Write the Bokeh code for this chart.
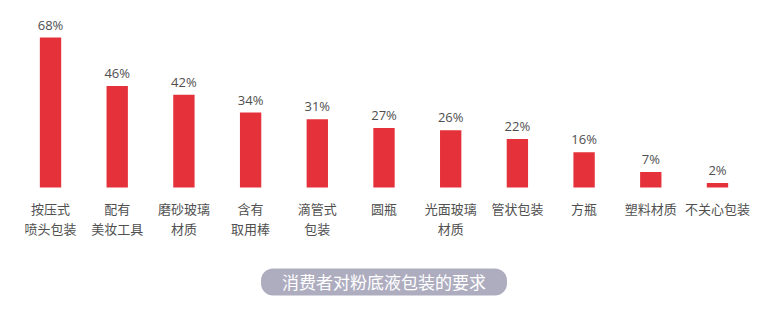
from bokeh.plotting import figure
from bokeh.models import ColumnDataSource, Range1d, Label
from bokeh.core.properties import value
from bokeh.embed import file_html
from bokeh.resources import INLINE

categories = ["按压式\n喷头包装", "配有\n美妆工具", "磨砂玻璃\n材质", "含有\n取用棒", "滴管式\n包装",
              "圆瓶", "光面玻璃\n材质", "管状包装", "方瓶", "塑料材质", "不关心包装"]
values = [68, 46, 42, 34, 31, 27, 26, 22, 16, 7, 2]
title_text = "消费者对粉底液包装的要求"

xs = list(range(len(categories)))
line1 = [c.split("\n")[0] for c in categories]
line2 = [c.split("\n")[1] if "\n" in c else "" for c in categories]
labels = [f"{v}%" for v in values]

src = ColumnDataSource(dict(x=xs, v=values, lab=labels, l1=line1, l2=line2, zero=[0] * len(xs)))

p = figure(width=769, height=315, output_backend="svg", toolbar_location=None,
           x_range=Range1d(-0.75, 10.78), y_range=Range1d(-58.0, 84.77),
           x_axis_type=None, y_axis_type=None, min_border=0,
           background_fill_color="white", border_fill_color="white")
p.outline_line_color = None
p.xgrid.visible = False
p.ygrid.visible = False

p.vbar(x="x", top="v", bottom=0, width=0.32, source=src, fill_color="#e5323a", line_color=None)

p.text(x="x", y="v", text="lab", source=src, y_offset=-13,
       text_align="center", text_baseline="middle", text_font_size="13px",
       text_color="#4f4f4f", text_font=value("Open Sans"))

p.text(x="x", y="zero", text="l1", source=src, y_offset=20.5,
       text_align="center", text_baseline="middle", text_font_size="13px",
       text_color="#505050", text_font=value("Noto Sans CJK SC"))
p.text(x="x", y="zero", text="l2", source=src, y_offset=40.5,
       text_align="center", text_baseline="middle", text_font_size="13px",
       text_color="#505050", text_font=value("Noto Sans CJK SC"))

lbl = Label(x=5.0, y=-42.8, text=title_text, text_align="center", text_baseline="middle",
            text_font_size="17px", text_color="white", text_font="Noto Sans CJK SC",
            background_fill_color="#aeadc0", border_radius=12,
            padding=dict(left=21, right=21, top=1, bottom=1))
p.add_layout(lbl)

open("out.html", "w").write(file_html(p, INLINE))
